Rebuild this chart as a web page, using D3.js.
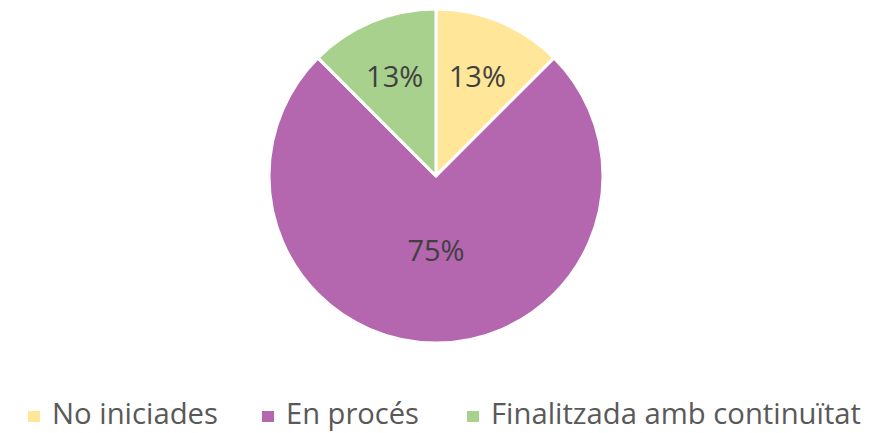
<!DOCTYPE html>
<html>
<head>
<meta charset="utf-8">
<script src="https://cdn.jsdelivr.net/npm/d3@7"></script>
<style>
  body { margin: 0; background: #fff; }
  svg { display: block; font-family: "Open Sans", sans-serif; }
</style>
</head>
<body>
<svg id="chart" width="891" height="433"></svg>
<script>
/* ── Data ─────────────────────────────────────────────── */
const categories = ["No iniciades", "En procés", "Finalitzada amb continuïtat"];
const values = [12.5, 75, 12.5];
const labels = ["13%", "75%", "13%"];
const colors = ["#FFE699", "#B466AF", "#A9D18E"];

/* ── Layout ───────────────────────────────────────────── */
const cx = 436, cy = 176, R = 167;
const svg = d3.select("#chart");

const pie = d3.pie().sort(null).value(d => d)(values);
const arc = d3.arc().innerRadius(0).outerRadius(R);

const g = svg.append("g").attr("transform", `translate(${cx},${cy})`);

g.selectAll("path")
  .data(pie)
  .join("path")
  .attr("d", arc)
  .attr("fill", (d, i) => colors[i])
  .attr("stroke", "#fff")
  .attr("stroke-width", 3)
  .attr("stroke-linejoin", "round");

// label distance from centre: small slices sit further out
const labelR = d => (d.endAngle - d.startAngle) < Math.PI ? 108 : 74;
g.selectAll("text.lbl")
  .data(pie)
  .join("text")
  .attr("class", "lbl")
  .attr("x", d => Math.sin((d.startAngle + d.endAngle) / 2) * labelR(d))
  .attr("y", d => -Math.cos((d.startAngle + d.endAngle) / 2) * labelR(d) + 11)
  .attr("text-anchor", "middle")
  .attr("font-size", 29)
  .attr("fill", "#404040")
  .text((d, i) => labels[i]);

/* ── Legend ───────────────────────────────────────────── */
const legendX = [28, 262, 467];
const legendW = [166, 133, 370];
const legend = svg.append("g").attr("transform", "translate(0,424)");
const item = legend.selectAll("g")
  .data(categories)
  .join("g")
  .attr("transform", (d, i) => `translate(${legendX[i]},0)`);

item.append("rect")
  .attr("x", 0).attr("y", -13)
  .attr("width", 12).attr("height", 11)
  .attr("fill", (d, i) => colors[i]);

item.append("text")
  .attr("x", 24)
  .attr("y", 0)
  .attr("font-size", 29)
  .attr("textLength", (d, i) => legendW[i])
  .attr("lengthAdjust", "spacingAndGlyphs")
  .attr("fill", "#595959")
  .text(d => d);
</script>
</body>
</html>
